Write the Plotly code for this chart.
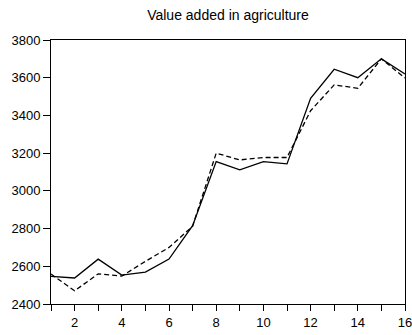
import plotly.graph_objects as go

periods = list(range(1, 17))
actual = [2546, 2538, 2638, 2553, 2569, 2638, 2815, 3155, 3111, 3155, 3143, 3491, 3645, 3600, 3700, 3620]
fitted = [2559, 2470, 2560, 2548, 2626, 2700, 2812, 3200, 3164, 3177, 3177, 3425, 3562, 3544, 3700, 3598]
x_ticks = list(range(1, 17))
x_ticktext = [str(v) if v % 2 == 0 else "" for v in x_ticks]
y_ticks = [2400, 2600, 2800, 3000, 3200, 3400, 3600, 3800]

W, H = 412, 335

fig = go.Figure()
fig.add_trace(go.Scatter(x=periods, y=actual, mode="lines",
                         line=dict(color="black", width=1.3), showlegend=False))
fig.add_trace(go.Scatter(x=periods, y=fitted, mode="lines",
                         line=dict(color="black", width=1.3, dash="5px,3px"), showlegend=False))

fig.update_layout(
    width=W, height=H,
    margin=dict(l=51, r=7, t=40, b=31, autoexpand=False),
    paper_bgcolor="white", plot_bgcolor="white",
    font=dict(family="Liberation Sans, Arial", size=13, color="black"),
    title=dict(text="Value added in agriculture", x=0.5, xref="paper", xanchor="center",
               y=1 - 15 / H, yanchor="middle", font=dict(size=14)),
    xaxis=dict(range=[1, 16], tickvals=x_ticks, ticktext=x_ticktext,
               ticks="outside", ticklen=6, tickwidth=1, tickcolor="black",
               ticklabeloverflow="allow",
               showline=True, linecolor="black", linewidth=1, mirror=True,
               showgrid=False, zeroline=False, automargin=False),
    yaxis=dict(range=[2400, 3800], tickvals=y_ticks,
               ticks="outside", ticklen=7, tickwidth=1, tickcolor="black",
               ticklabeloverflow="allow",
               showline=True, linecolor="black", linewidth=1, mirror=True,
               showgrid=False, zeroline=False, automargin=False),
)

fig.write_html(
    "out.html",
    config={"displayModeBar": False},
    post_script="document.body.style.margin='0';document.body.style.overflow='hidden';",
)
